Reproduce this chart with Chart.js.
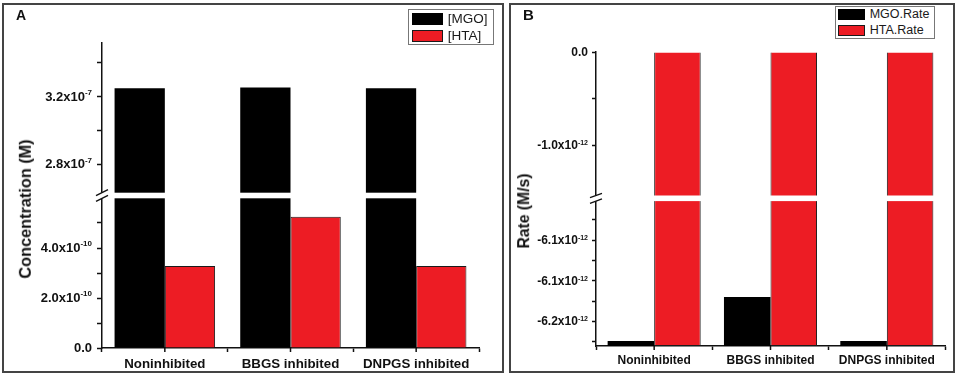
<!DOCTYPE html>
<html>
<head>
<meta charset="utf-8">
<script src="https://cdn.jsdelivr.net/npm/chart.js@4.4.1/dist/chart.umd.min.js"></script>
<style>
  body { margin: 0; background: #fff; width: 957px; height: 376px; position: relative; overflow: hidden; font-family: "Liberation Sans", Arial, sans-serif; }
  canvas { position: absolute; left: 0; top: 0; }
  .panel { position: absolute; box-sizing: border-box; border: 2px solid #444; }
  .tag { position: absolute; font-weight: bold; line-height: 1; color: #111; }
  .ytitle { position: absolute; font-weight: bold; white-space: nowrap; line-height: 1; color: #111; transform: translate(-50%, -50%) rotate(-90deg); }
  .legend { position: absolute; box-sizing: border-box; border: 1px solid #777; background: #fff; }
  .legend .sw { position: absolute; box-sizing: border-box; }
  .legend .lbl { position: absolute; line-height: 1; color: #1a1a1a; white-space: nowrap; }
</style>
</head>
<body>
<div class="panel" style="left:2px;top:3px;width:502px;height:370px"></div>
<div class="panel" style="left:509px;top:3px;width:446px;height:370px"></div>
<canvas id="chartA" width="957" height="376" style="width:957px;height:376px"></canvas>
<canvas id="chartB" width="957" height="376" style="width:957px;height:376px"></canvas>

<div class="tag" style="left:16px;top:8px;font-size:14px">A</div>
<div class="tag" style="left:523px;top:7px;font-size:15px">B</div>
<div class="ytitle" style="left:24.5px;top:209px;font-size:16.3px">Concentration (M)</div>
<div class="ytitle" style="left:523.5px;top:211px;font-size:15.7px">Rate (M/s)</div>

<div class="legend" style="left:408px;top:9px;width:86px;height:36px">
  <div class="sw" style="left:3px;top:3px;width:31px;height:12px;background:#000"></div>
  <div class="lbl" style="left:38.7px;top:2.3px;font-size:13.5px">[MGO]</div>
  <div class="sw" style="left:3px;top:20px;width:31px;height:12px;background:#ed1c24;border:1px solid #1a1a1a"></div>
  <div class="lbl" style="left:38.7px;top:19.3px;font-size:13.5px">[HTA]</div>
</div>
<div class="legend" style="left:835px;top:6px;width:100px;height:33px">
  <div class="sw" style="left:2px;top:2px;width:27px;height:11px;background:#000"></div>
  <div class="lbl" style="left:33.7px;top:1.3px;font-size:12.5px">MGO.Rate</div>
  <div class="sw" style="left:2px;top:18px;width:27px;height:11px;background:#ed1c24;border:1px solid #1a1a1a"></div>
  <div class="lbl" style="left:33.7px;top:17.3px;font-size:12.5px">HTA.Rate</div>
</div>

<script>
const categories = ['Noninhibited', 'BBGS inhibited', 'DNPGS inhibited'];

// panel A, concentration (M)
const mgoConc = [3.25e-7, 3.255e-7, 3.25e-7];
const htaConc = [3.28e-10, 5.25e-10, 3.28e-10];

// panel B, rate (M/s)
const mgoRate = [-6.224e-12, -6.17e-12, -6.224e-12];
const htaRate = [0, 0, 0];

// broken axis segments [min, max]
const concHiRange = [2.615e-7, 3.518e-7];
const concLoRange = [0, 6.1e-10];
const rateHiRange = [-1.57e-12, 0];
const rateLoRange = [-6.2301e-12, -6.0488e-12];

// tick values and labels ("mantissa^exponent")
const concHiTicks = [2.8e-7, 3.0e-7, 3.2e-7, 3.4e-7];
const concHiLabels = ['2.8x10^-7', '', '3.2x10^-7', ''];
const concLoTicks = [0, 1e-10, 2e-10, 3e-10, 4e-10, 5e-10];
const concLoLabels = ['0.0', '', '2.0x10^-10', '', '4.0x10^-10', ''];
const rateHiTicks = [0, -0.5e-12, -1.0e-12];
const rateHiLabels = ['0.0', '', '-1.0x10^-12'];
const rateLoTicks = [-6.075e-12, -6.1e-12, -6.125e-12, -6.15e-12, -6.175e-12, -6.2e-12, -6.225e-12];
const rateLoLabels = ['', '-6.1x10^-12', '', '-6.1x10^-12', '', '-6.2x10^-12', ''];

const BLACK = '#000000';
const RED = '#ed1c24';
const INK = '#111111';
const FONT = "'Liberation Sans', Arial, sans-serif";

// only the part of each bar that falls inside one axis segment
function segment(values, range) {
    return values.map(v => v <= range[0] ? null : [range[0], Math.min(v, range[1])]);
}

function bars(label, values, range, axis, stack, color) {
    return {
        label: label,
        data: segment(values, range),
        yAxisID: axis,
        stack: stack,
        backgroundColor: color,
        borderColor: '#1a1a1a',
        borderWidth: color === BLACK ? 0 : 1,
        categoryPercentage: 0.8,
        barPercentage: 1.0
    };
}

function yScale(range, ticks, labels, weight, cfg) {
    return {
        type: 'linear',
        position: 'left',
        stack: 'y',
        stackWeight: weight,
        stacked: false,
        min: range[0],
        max: range[1],
        afterFit: s => { s.width = cfg.width; },
        afterBuildTicks: s => { s.ticks = ticks.map(v => ({ value: v })); },
        grid: { drawOnChartArea: false, drawTicks: true, tickLength: cfg.tickLength, color: INK, tickWidth: 1.5 },
        border: { display: true, color: INK, width: 1.5 },
        // labels need a raised exponent, drawn by the tickLabels plugin below
        ticks: { display: false, autoSkip: false, callback: (v, i) => labels[i] }
    };
}

function xScale(cfg) {
    return {
        type: 'category',
        offset: true,
        afterFit: s => { s.height = cfg.height; },
        grid: { offset: true, drawOnChartArea: false, tickLength: 4, color: INK, tickWidth: 1.5 },
        border: { display: true, color: INK, width: 1.5 },
        ticks: {
            autoSkip: false,
            maxRotation: 0,
            padding: cfg.padding,
            color: INK,
            font: { family: FONT, weight: 'bold', size: cfg.fontSize }
        }
    };
}

// y tick labels like 3.2x10^-7 with a superscript exponent, placed with the scale
const tickLabels = {
    id: 'tickLabels',
    afterDraw(chart, args, opts) {
        const ctx = chart.ctx;
        ctx.save();
        ctx.fillStyle = INK;
        ['yLo', 'yHi'].forEach(id => {
            const scale = chart.scales[id];
            const labels = opts[id];
            const xr = scale.right - scale.options.grid.tickLength - opts.padding;
            scale.ticks.forEach((t, i) => {
                const text = labels[i];
                if (!text) return;
                const y = scale.getPixelForValue(t.value);
                const parts = text.split('^');
                let expW = 0;
                if (parts[1]) {
                    ctx.font = 'bold ' + opts.expSize + 'px ' + FONT;
                    expW = ctx.measureText(parts[1]).width;
                    ctx.textAlign = 'left';
                    ctx.textBaseline = 'alphabetic';
                    ctx.fillText(parts[1], xr - expW, y + opts.expShift);
                }
                ctx.font = 'bold ' + opts.size + 'px ' + FONT;
                ctx.textAlign = 'right';
                ctx.textBaseline = 'middle';
                ctx.fillText(parts[0], xr - expW, y + 0.5);
            });
        });
        ctx.restore();
    }
};

// white gap and "//" marks where the two y segments meet, plus centre ticks on x
const axisBreak = {
    id: 'axisBreak',
    afterDatasetsDraw(chart, args, opts) {
        const { ctx, chartArea, scales } = chart;
        const b = scales.yLo.top;
        const x0 = scales.yLo.right;
        ctx.save();
        ctx.fillStyle = '#fff';
        ctx.fillRect(x0 - 3, b - opts.gap / 2, chartArea.right - x0 + 4, opts.gap);
        ctx.strokeStyle = INK;
        ctx.lineWidth = 1.3;
        [b - opts.gap / 2, b + opts.gap / 2].forEach(y => {
            ctx.beginPath();
            ctx.moveTo(x0 - 6, y + opts.rise);
            ctx.lineTo(x0 + 6, y - opts.rise);
            ctx.stroke();
        });
        const xs = scales.x;
        ctx.lineWidth = 1.5;
        xs.ticks.forEach((t, i) => {
            const px = xs.getPixelForTick(i);
            ctx.beginPath();
            ctx.moveTo(px, xs.top);
            ctx.lineTo(px, xs.top + 4);
            ctx.stroke();
        });
        ctx.restore();
    }
};

Chart.defaults.font.family = FONT;

new Chart(document.getElementById('chartA').getContext('2d'), {
    type: 'bar',
    data: {
        labels: categories,
        datasets: [
            bars('[MGO]', mgoConc, concLoRange, 'yLo', 'mgo', BLACK),
            bars('[MGO]', mgoConc, concHiRange, 'yHi', 'mgo', BLACK),
            bars('[HTA]', htaConc, concLoRange, 'yLo', 'hta', RED),
            bars('[HTA]', htaConc, concHiRange, 'yHi', 'hta', RED)
        ]
    },
    options: {
        responsive: false,
        animation: false,
        devicePixelRatio: 1,
        layout: { padding: { left: 0, right: 478, top: 43, bottom: 0 } },
        plugins: {
            legend: { display: false },
            tooltip: { enabled: false },
            axisBreak: { gap: 5.6, rise: 3 },
            tickLabels: { yLo: concLoLabels, yHi: concHiLabels, padding: 5, size: 13, expSize: 8, expShift: -1.7 }
        },
        scales: {
            x: xScale({ height: 28, padding: 4, fontSize: 13.3 }),
            yLo: yScale(concLoRange, concLoTicks, concLoLabels, 1, { width: 102, tickLength: 5 }),
            yHi: yScale(concHiRange, concHiTicks, concHiLabels, 1, { width: 102, tickLength: 5 })
        }
    },
    plugins: [axisBreak, tickLabels]
});

new Chart(document.getElementById('chartB').getContext('2d'), {
    type: 'bar',
    data: {
        labels: categories,
        datasets: [
            bars('MGO.Rate', mgoRate, rateLoRange, 'yLo', 'mgo', BLACK),
            bars('MGO.Rate', mgoRate, rateHiRange, 'yHi', 'mgo', BLACK),
            bars('HTA.Rate', htaRate, rateLoRange, 'yLo', 'hta', RED),
            bars('HTA.Rate', htaRate, rateHiRange, 'yHi', 'hta', RED)
        ]
    },
    options: {
        responsive: false,
        animation: false,
        devicePixelRatio: 1,
        layout: { padding: { left: 509, right: 12, top: 52, bottom: 0 } },
        plugins: {
            legend: { display: false },
            tooltip: { enabled: false },
            axisBreak: { gap: 5.6, rise: 2.2 },
            tickLabels: { yLo: rateLoLabels, yHi: rateHiLabels, padding: 4, size: 12, expSize: 7, expShift: 0 }
        },
        scales: {
            x: xScale({ height: 30, padding: 3, fontSize: 12 }),
            yLo: yScale(rateLoRange, rateLoTicks, rateLoLabels, 147.7, { width: 87, tickLength: 4 }),
            yHi: yScale(rateHiRange, rateHiTicks, rateHiLabels, 146.3, { width: 87, tickLength: 4 })
        }
    },
    plugins: [axisBreak, tickLabels]
});
</script>
</body>
</html>
